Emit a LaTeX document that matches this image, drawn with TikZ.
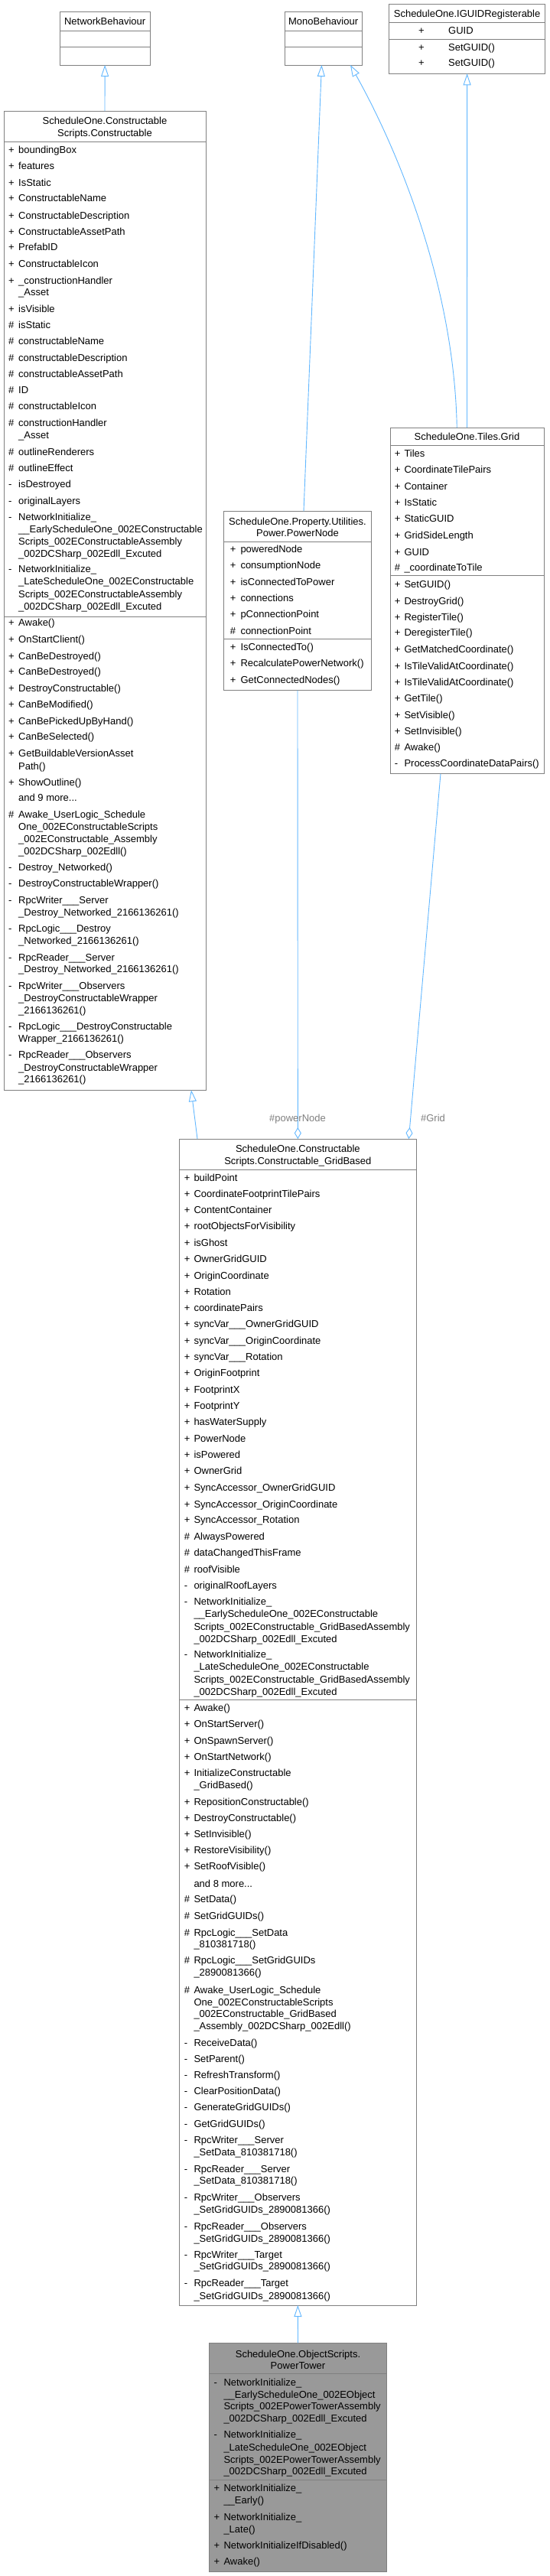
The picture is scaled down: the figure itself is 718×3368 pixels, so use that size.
\documentclass[tikz,border=0pt]{standalone}
\usepackage{fontspec}
\setmainfont{Liberation Sans}
\usetikzlibrary{arrows.meta}
\definecolor{boxgray}{HTML}{808080}
\definecolor{inhblue}{HTML}{63B8FF}
\definecolor{towerfill}{HTML}{999999}
\definecolor{collabc}{HTML}{63B8FF}
\newcounter{mc}
\newcommand\fs{\fontsize{13}{15}\selectfont}
\newcommand\mrow[3]{\stepcounter{mc}\node[txt] (s\themc) at (\sx,#2) {#1};\node[txt] (t\themc) at (\tx,#2) {#3};}
\newcommand\mcont[2]{\stepcounter{mc}\node[txt] (c\themc) at (\tx,#1) {#2};}
\newcommand\ttl[3]{\stepcounter{mc}\node[ttlt] (h\themc) at (#1,#2) {#3};}
\tikzset{
  box/.style={draw=boxgray, line width=1pt, fill=white, inner sep=0pt, outer sep=0pt, anchor=north west},
  txt/.style={inner sep=0pt, anchor=west, text height=11pt, text depth=2pt, font=\fs},
  ttlt/.style={inner sep=0pt, anchor=center, text height=11pt, text depth=2pt, font=\fs},
  sepl/.style={draw=boxgray, line width=1pt},
  inh/.style={draw=inhblue, line width=0.9pt, -{Triangle[open,length=15pt,width=10pt]}},
  coll/.style={draw=collabc, line width=0.9pt, -{Diamond[open,length=15pt,width=9pt]}},
  elab/.style={inner sep=0pt, text height=11pt, text depth=2pt, font=\fs, text=boxgray},
}
\begin{document}
\begin{tikzpicture}[x=1pt,y=-1pt]
\fill[white] (0,0) rectangle (718,3368);
\useasboundingbox (0,0) rectangle (718,3368);

% ---------- NetworkBehaviour
\node[box, minimum width=117.7pt, minimum height=70pt] (netbeh) at (78.3,15) {};
\draw[sepl] (78.3,40.3) -- (196,40.3);
\draw[sepl] (78.3,61) -- (196,61);
\ttl{137.15}{28}{NetworkBehaviour}

% ---------- MonoBehaviour
\node[box, minimum width=100.7pt, minimum height=70pt] (monobeh) at (372.3,15) {};
\draw[sepl] (372.3,40.3) -- (473,40.3);
\draw[sepl] (372.3,61) -- (473,61);
\ttl{422.65}{28}{MonoBehaviour}

% ---------- IGUIDRegisterable
\node[box, minimum width=203.8pt, minimum height=91.3pt] (iguid) at (508.7,5) {};
\draw[sepl] (508.7,29.3) -- (712.5,29.3);
\draw[sepl] (508.7,51) -- (712.5,51);
\ttl{610.6}{17.5}{ScheduleOne.IGUIDRegisterable}
\def\sx{547}\def\tx{586}
\mrow{+}{40}{GUID}
\mrow{+}{62}{SetGUID()}
\mrow{+}{82}{SetGUID()}

% ---------- Constructable
\node[box, minimum width=264pt, minimum height=1280.3pt] (constructable) at (5,145) {};
\draw[sepl] (5,185) -- (269,185);
\draw[sepl] (5,806) -- (269,806);
\ttl{137}{158.3}{ScheduleOne.Constructable}
\ttl{137}{174.3}{Scripts.Constructable}
\def\sx{11}\def\tx{24}
\mrow{+}{195.7}{boundingBox}
\mrow{+}{217.3}{features}
\mrow{+}{238.7}{IsStatic}
\mrow{+}{259.3}{ConstructableName}
\mrow{+}{281.7}{ConstructableDescription}
\mrow{+}{302.7}{ConstructableAssetPath}
\mrow{+}{323.3}{PrefabID}
\mrow{+}{345.3}{ConstructableIcon}
\mrow{+}{366.7}{\_constructionHandler}
\mcont{382.3}{\_Asset}
\mrow{+}{403.7}{isVisible}
\mrow{\#}{425.3}{isStatic}
\mrow{\#}{446}{constructableName}
\mrow{\#}{467.7}{constructableDescription}
\mrow{\#}{489.3}{constructableAssetPath}
\mrow{\#}{510}{ID}
\mrow{\#}{531}{constructableIcon}
\mrow{\#}{553.3}{constructionHandler}
\mcont{569.3}{\_Asset}
\mrow{\#}{591}{outlineRenderers}
\mrow{\#}{611.7}{outlineEffect}
\mrow{-}{633.3}{isDestroyed}
\mrow{-}{655}{originalLayers}
\mrow{-}{675.7}{NetworkInitialize\_}
\mcont{691.7}{\_\_EarlyScheduleOne\_002EConstructable}
\mcont{707.7}{Scripts\_002EConstructableAssembly}
\mcont{724}{\_002DCSharp\_002Edll\_Excuted}
\mrow{-}{744.3}{NetworkInitialize\_}
\mcont{760}{\_LateScheduleOne\_002EConstructable}
\mcont{776.7}{Scripts\_002EConstructableAssembly}
\mcont{792.7}{\_002DCSharp\_002Edll\_Excuted}
\mrow{+}{814.3}{Awake()}
\mrow{+}{836}{OnStartClient()}
\mrow{+}{857.7}{CanBeDestroyed()}
\mrow{+}{878.3}{CanBeDestroyed()}
\mrow{+}{900}{DestroyConstructable()}
\mrow{+}{921}{CanBeModified()}
\mrow{+}{942.7}{CanBePickedUpByHand()}
\mrow{+}{963.3}{CanBeSelected()}
\mrow{+}{985.3}{GetBuildableVersionAsset}
\mcont{1001.7}{Path()}
\mrow{+}{1022.7}{ShowOutline()}
\mrow{}{1043.3}{and 9 more...}
\mrow{\#}{1065.3}{Awake\_UserLogic\_Schedule}
\mcont{1081}{One\_002EConstructableScripts}
\mcont{1097.3}{\_002EConstructable\_Assembly}
\mcont{1113.3}{\_002DCSharp\_002Edll()}
\mrow{-}{1134.3}{Destroy\_Networked()}
\mrow{-}{1155}{DestroyConstructableWrapper()}
\mrow{-}{1177.3}{RpcWriter\_\_\_Server}
\mcont{1192.7}{\_Destroy\_Networked\_2166136261()}
\mrow{-}{1214.3}{RpcLogic\_\_\_Destroy}
\mcont{1230}{\_Networked\_2166136261()}
\mrow{-}{1251.7}{RpcReader\_\_\_Server}
\mcont{1267.3}{\_Destroy\_Networked\_2166136261()}
\mrow{-}{1289.3}{RpcWriter\_\_\_Observers}
\mcont{1305}{\_DestroyConstructableWrapper}
\mcont{1320.7}{\_2166136261()}
\mrow{-}{1342.3}{RpcLogic\_\_\_DestroyConstructable}
\mcont{1358.3}{Wrapper\_2166136261()}
\mrow{-}{1379.3}{RpcReader\_\_\_Observers}
\mcont{1395.7}{\_DestroyConstructableWrapper}
\mcont{1411}{\_2166136261()}

% ---------- PowerNode
\node[box, minimum width=193.4pt, minimum height=234.3pt] (powernode) at (292.3,668.4) {};
\draw[sepl] (292.3,708.3) -- (485.7,708.3);
\draw[sepl] (292.3,835.7) -- (485.7,835.7);
\ttl{389}{681.7}{ScheduleOne.Property.Utilities.}
\ttl{389}{696.7}{Power.PowerNode}
\def\sx{300.7}\def\tx{314.3}
\mrow{+}{718.3}{poweredNode}
\mrow{+}{739.3}{consumptionNode}
\mrow{+}{761}{isConnectedToPower}
\mrow{+}{782.3}{connections}
\mrow{+}{803.3}{pConnectionPoint}
\mrow{\#}{825}{connectionPoint}
\mrow{+}{845.7}{IsConnectedTo()}
\mrow{+}{867.3}{RecalculatePowerNetwork()}
\mrow{+}{889.3}{GetConnectedNodes()}

% ---------- Grid
\node[box, minimum width=201pt, minimum height=452.7pt] (grid) at (510,559) {};
\draw[sepl] (510,582.7) -- (711,582.7);
\draw[sepl] (510,752.7) -- (711,752.7);
\ttl{610.5}{571.2}{ScheduleOne.Tiles.Grid}
\def\sx{515.7}\def\tx{528.3}
\mrow{+}{593.3}{Tiles}
\mrow{+}{614.3}{CoordinateTilePairs}
\mrow{+}{635.7}{Container}
\mrow{+}{657.3}{IsStatic}
\mrow{+}{678.3}{StaticGUID}
\mrow{+}{700}{GridSideLength}
\mrow{+}{721.7}{GUID}
\mrow{\#}{742.3}{\_coordinateToTile}
\mrow{+}{763.5}{SetGUID()}
\mrow{+}{785.7}{DestroyGrid()}
\mrow{+}{806.7}{RegisterTile()}
\mrow{+}{827.3}{DeregisterTile()}
\mrow{+}{849.3}{GetMatchedCoordinate()}
\mrow{+}{871}{IsTileValidAtCoordinate()}
\mrow{+}{891.7}{IsTileValidAtCoordinate()}
\mrow{+}{913.3}{GetTile()}
\mrow{+}{935}{SetVisible()}
\mrow{+}{955.7}{SetInvisible()}
\mrow{\#}{977.3}{Awake()}
\mrow{-}{998.3}{ProcessCoordinateDataPairs()}

% ---------- GridBased
\node[box, minimum width=309.3pt, minimum height=1525pt] (gridbased) at (234.7,1489) {};
\draw[sepl] (234.7,1529.3) -- (544,1529.3);
\draw[sepl] (234.7,2222.7) -- (544,2222.7);
\ttl{389.35}{1502}{ScheduleOne.Constructable}
\ttl{389.35}{1518.3}{Scripts.Constructable\_GridBased}
\def\sx{240.7}\def\tx{253.3}
\mrow{+}{1540}{buildPoint}
\mrow{+}{1561}{CoordinateFootprintTilePairs}
\mrow{+}{1582.3}{ContentContainer}
\mrow{+}{1603.3}{rootObjectsForVisibility}
\mrow{+}{1625.3}{isGhost}
\mrow{+}{1646}{OwnerGridGUID}
\mrow{+}{1667.7}{OriginCoordinate}
\mrow{+}{1689.3}{Rotation}
\mrow{+}{1710}{coordinatePairs}
\mrow{+}{1731}{syncVar\_\_\_OwnerGridGUID}
\mrow{+}{1753.3}{syncVar\_\_\_OriginCoordinate}
\mrow{+}{1774.3}{syncVar\_\_\_Rotation}
\mrow{+}{1795}{OriginFootprint}
\mrow{+}{1817.3}{FootprintX}
\mrow{+}{1838.3}{FootprintY}
\mrow{+}{1859.3}{hasWaterSupply}
\mrow{+}{1881}{PowerNode}
\mrow{+}{1901.7}{isPowered}
\mrow{+}{1923.3}{OwnerGrid}
\mrow{+}{1945}{SyncAccessor\_OwnerGridGUID}
\mrow{+}{1966.7}{SyncAccessor\_OriginCoordinate}
\mrow{+}{1987.3}{SyncAccessor\_Rotation}
\mrow{\#}{2009}{AlwaysPowered}
\mrow{\#}{2030}{dataChangedThisFrame}
\mrow{\#}{2051.7}{roofVisible}
\mrow{-}{2073.3}{originalRoofLayers}
\mrow{-}{2094.3}{NetworkInitialize\_}
\mcont{2110}{\_\_EarlyScheduleOne\_002EConstructable}
\mcont{2126.7}{Scripts\_002EConstructable\_GridBasedAssembly}
\mcont{2142.7}{\_002DCSharp\_002Edll\_Excuted}
\mrow{-}{2163.3}{NetworkInitialize\_}
\mcont{2179.3}{\_LateScheduleOne\_002EConstructable}
\mcont{2195.7}{Scripts\_002EConstructable\_GridBasedAssembly}
\mcont{2211.7}{\_002DCSharp\_002Edll\_Excuted}
\mrow{+}{2232.5}{Awake()}
\mrow{+}{2254.3}{OnStartServer()}
\mrow{+}{2276}{OnSpawnServer()}
\mrow{+}{2297.3}{OnStartNetwork()}
\mrow{+}{2318.3}{InitializeConstructable}
\mcont{2334.3}{\_GridBased()}
\mrow{+}{2355.7}{RepositionConstructable()}
\mrow{+}{2377.3}{DestroyConstructable()}
\mrow{+}{2398.3}{SetInvisible()}
\mrow{+}{2419.3}{RestoreVisibility()}
\mrow{+}{2440}{SetRoofVisible()}
\mrow{}{2462.7}{and 8 more...}
\mrow{\#}{2483.3}{SetData()}
\mrow{\#}{2505}{SetGridGUIDs()}
\mrow{\#}{2526.7}{RpcLogic\_\_\_SetData}
\mcont{2542.3}{\_810381718()}
\mrow{\#}{2563.3}{RpcLogic\_\_\_SetGridGUIDs}
\mcont{2579.3}{\_2890081366()}
\mrow{\#}{2601.7}{Awake\_UserLogic\_Schedule}
\mcont{2617.7}{One\_002EConstructableScripts}
\mcont{2633.3}{\_002EConstructable\_GridBased}
\mcont{2649.3}{\_Assembly\_002DCSharp\_002Edll()}
\mrow{-}{2670.7}{ReceiveData()}
\mrow{-}{2691.7}{SetParent()}
\mrow{-}{2713.3}{RefreshTransform()}
\mrow{-}{2734.3}{ClearPositionData()}
\mrow{-}{2755}{GenerateGridGUIDs()}
\mrow{-}{2777.3}{GetGridGUIDs()}
\mrow{-}{2798.3}{RpcWriter\_\_\_Server}
\mcont{2814}{\_SetData\_810381718()}
\mrow{-}{2835.7}{RpcReader\_\_\_Server}
\mcont{2851.3}{\_SetData\_810381718()}
\mrow{-}{2873.3}{RpcWriter\_\_\_Observers}
\mcont{2889.3}{\_SetGridGUIDs\_2890081366()}
\mrow{-}{2910.7}{RpcReader\_\_\_Observers}
\mcont{2926.7}{\_SetGridGUIDs\_2890081366()}
\mrow{-}{2947.7}{RpcWriter\_\_\_Target}
\mcont{2963.3}{\_SetGridGUIDs\_2890081366()}
\mrow{-}{2985}{RpcReader\_\_\_Target}
\mcont{3001.7}{\_SetGridGUIDs\_2890081366()}

% ---------- PowerTower
\node[box, fill=towerfill, minimum width=232.4pt, minimum height=299pt] (powertower) at (273.3,3063.3) {};
\draw[sepl] (273.3,3103.3) -- (505.7,3103.3);
\draw[sepl] (273.3,3242.7) -- (505.7,3242.7);
\ttl{389.5}{3077.7}{ScheduleOne.ObjectScripts.}
\ttl{389.5}{3093.3}{PowerTower}
\def\sx{279.3}\def\tx{292.3}
\mrow{-}{3115}{NetworkInitialize\_}
\mcont{3130.5}{\_\_EarlyScheduleOne\_002EObject}
\mcont{3146.3}{Scripts\_002EPowerTowerAssembly}
\mcont{3162.3}{\_002DCSharp\_002Edll\_Excuted}
\mrow{-}{3183.3}{NetworkInitialize\_}
\mcont{3199.5}{\_LateScheduleOne\_002EObject}
\mcont{3215.7}{Scripts\_002EPowerTowerAssembly}
\mcont{3231.3}{\_002DCSharp\_002Edll\_Excuted}
\mrow{+}{3253.3}{NetworkInitialize\_}
\mcont{3269.3}{\_\_Early()}
\mrow{+}{3290.7}{NetworkInitialize\_}
\mcont{3306.7}{\_Late()}
\mrow{+}{3327.7}{NetworkInitializeIfDisabled()}
\mrow{+}{3349.3}{Awake()}

% ---------- connectors
\draw[inh] (constructable.north) -- (netbeh.south);
\draw[inh] ([xshift=8pt]powernode.north) -- ([xshift=-2.2pt]monobeh.south);
\draw[inh] ([xshift=-13.2pt]grid.north) .. controls (594,380) and (525,205) .. ([xshift=35.4pt]monobeh.south);
\draw[inh] (grid.north) -- (iguid.south);
\draw[inh] ([xshift=-131.35pt]gridbased.north) -- ([xshift=113pt]constructable.south);
\draw[inh] (powertower.north) -- (gridbased.south);
\draw[coll] (powernode.south) -- (gridbased.north);
\draw[coll] ([xshift=-34.5pt]grid.south) -- ([xshift=145pt]gridbased.north);
\node[elab] (lbpn) at (389,1462) {\#powerNode};
\node[elab] (lbgr) at (566,1462) {\#Grid};
\end{tikzpicture}
\end{document}
